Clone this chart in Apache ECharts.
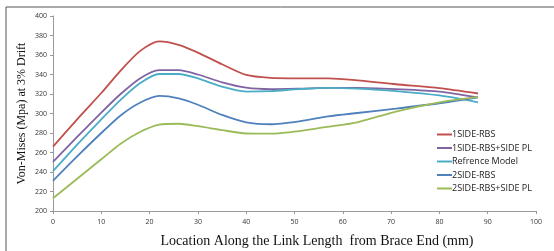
<!DOCTYPE html>
<html><head><meta charset="utf-8">
<script src="https://cdn.jsdelivr.net/npm/echarts@6/dist/echarts.min.js"></script>
<style>html,body{margin:0;padding:0;background:#fff}#c{width:554px;height:251px}</style>
</head><body><div id="c"></div>
<script>
const xs = [0, 5, 10, 14, 18, 22, 26, 30, 35, 40, 45, 51, 57, 63, 71, 80, 88];
const names = ['1SIDE-RBS','1SIDE-RBS+SIDE PL','Refrence Model','2SIDE-RBS','2SIDE-RBS+SIDE PL'];
const colors = ['#C0504D','#8064A2','#4BACC6','#4F81BD','#9BBB59'];
const s1 = [266, 294, 321, 344, 364, 374, 370.5, 362.5, 350.5, 339.5, 336.5, 336, 336, 334, 330, 326, 320.5];
const s2 = [250.5, 276, 301, 320, 336, 344.5, 344.5, 340, 332, 326.5, 325, 325.5, 326.3, 326.3, 325, 322.5, 316.5];
const s3 = [241, 268, 294, 314, 331, 340.5, 340.5, 336, 327.5, 322.5, 323, 325, 326.3, 325.5, 323, 318.5, 311.5];
const s4 = [231, 256, 280, 298, 311, 318, 315.5, 309, 298.5, 291, 289, 292, 297, 300.5, 305, 310.5, 316.5];
const s5 = [213, 233, 253, 269, 281, 288.5, 289.5, 287, 283, 279.5, 279.3, 282, 286.5, 291, 302, 311.5, 317];
const yTicks = [200,220,240,260,280,300,320,340,360,380,400];
const xTicks = [0,10,20,30,40,50,60,70,80,90,100];
const all = [s1,s2,s3,s4,s5];
const chart = echarts.init(document.getElementById('c'));
chart.setOption({
  animation:false,
  grid:{left:53,right:18,top:16,bottom:40},
  legend:{orient:'vertical',left:432,top:125,itemWidth:15,itemHeight:2,itemGap:4.5,icon:'rect',
    textStyle:{fontFamily:'Open Sans',fontSize:9,color:'#222',padding:[0,0,0,-5]},data:names},
  xAxis:{type:'value',min:xTicks[0],max:xTicks[xTicks.length-1],interval:10,
    axisLine:{lineStyle:{color:'#999'}},axisTick:{show:true,length:3,lineStyle:{color:'#999'}},
    splitLine:{show:false},axisLabel:{fontSize:7,color:'#333',margin:7,fontFamily:'Open Sans'}},
  yAxis:{type:'value',min:yTicks[0],max:yTicks[yTicks.length-1],interval:20,
    axisLine:{show:true,lineStyle:{color:'#999'}},axisTick:{show:true,length:3,lineStyle:{color:'#999'}},
    splitLine:{show:false},axisLabel:{fontSize:7,color:'#333',margin:6,fontFamily:'Open Sans'}},
  graphic:[
    {type:'rect',shape:{x:6,y:7,width:600,height:300},style:{fill:'none',stroke:'#555',lineWidth:1},silent:true},
    {type:'text',x:317,y:241,style:{text:'Location Along the Link Length  from Brace End (mm)',font:'14px "Liberation Serif"',fill:'#111',textAlign:'center',textVerticalAlign:'middle'}},
    {type:'text',x:22,y:113.5,rotation:Math.PI/2,style:{text:'Von-Mises (Mpa) at 3% Drift',font:'12px "Liberation Serif"',fill:'#111',textAlign:'center',textVerticalAlign:'middle'}}
  ],
  series: all.map((d,i)=>({name:names[i],type:'line',smooth:0.25,symbol:'none',
    data:xs.map((x,j)=>[x,d[j]]),lineStyle:{width:1.8,color:colors[i]},itemStyle:{color:colors[i]}}))
});
</script></body></html>
